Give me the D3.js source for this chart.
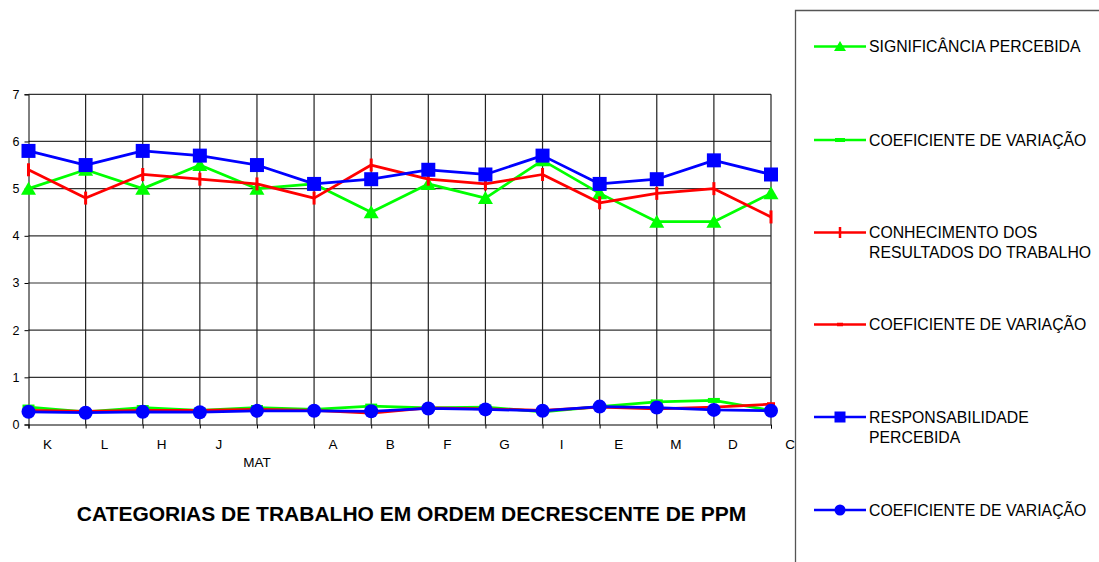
<!DOCTYPE html>
<html>
<head>
<meta charset="utf-8">
<script src="https://cdn.jsdelivr.net/npm/d3@7"></script>
<style>
  html, body { margin: 0; padding: 0; background: #fff; }
  svg { display: block; font-family: "Liberation Sans", Arial, sans-serif; }
</style>
</head>
<body>
<svg id="chart" width="1099" height="562"></svg>
<script>
// Job categories, in decreasing order of PPM
const categories = ["K", "L", "H", "J", "MAT", "A", "B", "F", "G", "I", "E", "M", "D", "C"];

// Mean scores per category
const significancia   = [5.0, 5.4, 5.0, 5.5, 5.0, 5.1, 4.5, 5.1, 4.8, 5.6, 4.9, 4.3, 4.3, 4.9];
const conhecimento    = [5.4, 4.8, 5.3, 5.2, 5.1, 4.8, 5.5, 5.2, 5.1, 5.3, 4.7, 4.9, 5.0, 4.4];
const responsabilidade = [5.8, 5.5, 5.8, 5.7, 5.5, 5.1, 5.2, 5.4, 5.3, 5.7, 5.1, 5.2, 5.6, 5.3];

// Coefficients of variation
const cvSignificancia    = [0.37, 0.27, 0.36, 0.30, 0.36, 0.32, 0.39, 0.35, 0.37, 0.27, 0.38, 0.48, 0.51, 0.30];
const cvConhecimento     = [0.30, 0.28, 0.30, 0.30, 0.32, 0.30, 0.24, 0.35, 0.33, 0.30, 0.37, 0.33, 0.37, 0.43];
const cvResponsabilidade = [0.27, 0.25, 0.27, 0.26, 0.29, 0.29, 0.28, 0.34, 0.32, 0.29, 0.38, 0.36, 0.31, 0.29];

const yTicks = [0, 1, 2, 3, 4, 5, 6, 7];
const axisTitle = "CATEGORIAS DE TRABALHO EM ORDEM DECRESCENTE DE PPM";

const GREEN = "#00ff00", RED = "#ff0000", BLUE = "#0000ff";

const series = [
  { name: ["SIGNIFICÂNCIA PERCEBIDA"], values: significancia, color: GREEN, marker: "triangle" },
  { name: ["COEFICIENTE DE VARIAÇÃO"], values: cvSignificancia, color: GREEN, marker: "dashBig" },
  { name: ["CONHECIMENTO DOS", "RESULTADOS DO TRABALHO"], values: conhecimento, color: RED, marker: "vbar" },
  { name: ["COEFICIENTE DE VARIAÇÃO"], values: cvConhecimento, color: RED, marker: "dashSmall" },
  { name: ["RESPONSABILIDADE", "PERCEBIDA"], values: responsabilidade, color: BLUE, marker: "square" },
  { name: ["COEFICIENTE DE VARIAÇÃO"], values: cvResponsabilidade, color: BLUE, marker: "circle" }
];

const svg = d3.select("#chart");

const x = d3.scalePoint().domain(categories).range([28.5, 771]).padding(0);
const y = d3.scaleLinear().domain([0, 7]).range([424.5, 94.3]);

// Gridlines
const grid = svg.append("g");
grid.selectAll("line.h").data(yTicks.slice(1)).join("line")
  .attr("x1", 28.5).attr("x2", 771)
  .attr("y1", d => y(d)).attr("y2", d => y(d))
  .attr("stroke", "#333").attr("stroke-width", 1.2);
grid.selectAll("line.v").data(categories.slice(1)).join("line")
  .attr("x1", d => x(d)).attr("x2", d => x(d))
  .attr("y1", y(7)).attr("y2", y(0))
  .attr("stroke", "#222").attr("stroke-width", 1.2);

// Y axis
const yAxis = svg.append("g").attr("transform", "translate(28.5,0)")
  .call(d3.axisLeft(y).tickValues(yTicks).tickSize(4).tickPadding(5).tickFormat(d3.format("d")));
yAxis.select(".domain").attr("stroke", "#000");
yAxis.selectAll(".tick line").attr("stroke", "#000");
yAxis.selectAll("text").attr("font-size", 12.5).attr("font-family", "Liberation Sans, Arial, sans-serif").attr("fill", "#000");

// X axis: ticks on the category points, labels set to the right of each tick
const xAxis = svg.append("g").attr("transform", `translate(0,${y(0)})`)
  .call(d3.axisBottom(x).tickSize(4).tickFormat(""));
xAxis.select(".domain").attr("stroke", "#000");
xAxis.selectAll(".tick line").attr("stroke", "#000");

svg.append("g").selectAll("text").data(categories).join("text")
  .attr("x", d => d === "MAT" ? x(d) : x(d) + 19)
  .attr("y", d => d === "MAT" ? 467 : 449)
  .attr("text-anchor", "middle")
  .attr("font-size", 13.5)
  .attr("fill", "#000")
  .text(d => d);

// Axis title
svg.append("text")
  .attr("x", 411.5).attr("y", 520.5)
  .attr("text-anchor", "middle")
  .attr("font-size", 21).attr("font-weight", "bold")
  .attr("fill", "#000")
  .text(axisTitle);

// Marker drawing
function drawMarker(g, type, color, cx, cy) {
  switch (type) {
    case "triangle":
      g.append("path")
        .attr("d", `M${cx},${cy - 7}L${cx + 7.5},${cy + 6}L${cx - 7.5},${cy + 6}Z`)
        .attr("fill", color);
      break;
    case "square":
      g.append("rect").attr("x", cx - 7).attr("y", cy - 7).attr("width", 14).attr("height", 14)
        .attr("fill", color);
      break;
    case "circle":
      g.append("circle").attr("cx", cx).attr("cy", cy).attr("r", 7).attr("fill", color);
      break;
    case "vbar":
      g.append("rect").attr("x", cx - 1.5).attr("y", cy - 6.5).attr("width", 3).attr("height", 13)
        .attr("fill", color);
      break;
    case "dashBig":
      g.append("rect").attr("x", cx - 6).attr("y", cy - 2.5).attr("width", 12).attr("height", 5)
        .attr("fill", color);
      break;
    case "dashSmall":
      g.append("rect").attr("x", cx - 4).attr("y", cy - 2).attr("width", 8).attr("height", 4)
        .attr("fill", color);
      break;
  }
}

const line = d3.line().x((d, i) => x(categories[i])).y(d => y(d));

series.forEach(s => {
  const g = svg.append("g");
  g.append("path").datum(s.values)
    .attr("d", line)
    .attr("fill", "none")
    .attr("stroke", s.color)
    .attr("stroke-width", 2.75)
    .attr("stroke-linejoin", "round");
  s.values.forEach((v, i) => drawMarker(g, s.marker, s.color, x(categories[i]), y(v)));
});

// Legend
const legend = svg.append("g");
legend.append("path")
  .attr("d", "M795.5,600V10.5H1099")
  .attr("fill", "none").attr("stroke", "#555").attr("stroke-width", 1.3);

const legendY = [46.5, 140, 232.5, 324.5, 417, 510];
series.forEach((s, i) => {
  const g = legend.append("g");
  const ly = legendY[i];
  g.append("line").attr("x1", 814).attr("x2", 866).attr("y1", ly).attr("y2", ly)
    .attr("stroke", s.color).attr("stroke-width", 2.5);
  const mType = s.marker === "dashBig" ? "dashLegend" : s.marker;
  if (mType === "dashLegend") {
    g.append("rect").attr("x", 835).attr("y", ly - 2).attr("width", 10).attr("height", 4).attr("fill", s.color);
  } else if (mType === "dashSmall") {
    g.append("rect").attr("x", 837).attr("y", ly - 1.75).attr("width", 6).attr("height", 3.5).attr("fill", s.color);
  } else if (mType === "triangle") {
    g.append("path").attr("d", `M840,${ly - 5.5}L846,${ly + 4.5}L834,${ly + 4.5}Z`).attr("fill", s.color);
  } else if (mType === "square") {
    g.append("rect").attr("x", 834.5).attr("y", ly - 5.5).attr("width", 11).attr("height", 11).attr("fill", s.color);
  } else if (mType === "circle") {
    g.append("circle").attr("cx", 840).attr("cy", ly).attr("r", 5.5).attr("fill", s.color);
  } else if (mType === "vbar") {
    g.append("rect").attr("x", 838.75).attr("y", ly - 5.5).attr("width", 2.5).attr("height", 11).attr("fill", s.color);
  }
  s.name.forEach((t, j) => {
    g.append("text")
      .attr("x", 869).attr("y", ly + 5.5 + j * 20)
      .attr("font-size", 15.8).attr("fill", "#000")
      .text(t);
  });
});
</script>
</body>
</html>
